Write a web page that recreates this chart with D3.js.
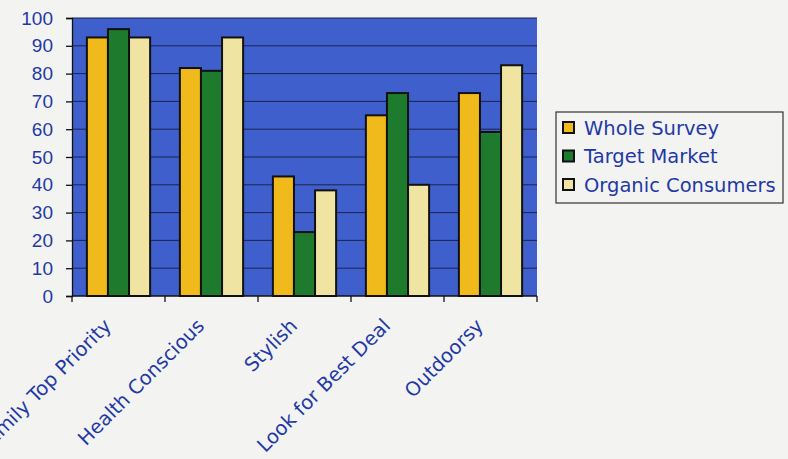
<!doctype html>
<html>
  <head>
    <script src="https://cdn.jsdelivr.net/npm/d3@7/dist/d3.min.js"></script>
    <style>
      body {
          margin: 0;
          background: #f3f3f2;
          font-family: "DejaVu Sans", Verdana, sans-serif;
      }
      .tick text, .cat, .legend text {
          fill: #1f3aa6;
      }
      .grid line {
          stroke: #1b2450;
          stroke-width: 1;
      }
      .bar {
          stroke: #111;
          stroke-width: 2;
      }
    </style>
  </head>
  <body>
    <script>
        var categories = ["Family Top Priority", "Health Conscious", "Stylish", "Look for Best Deal", "Outdoorsy"];
        var seriesNames = ["Whole Survey", "Target Market", "Organic Consumers"];
        var wholeSurvey = [93, 82, 43, 65, 73];
        var targetMarket = [96, 81, 23, 73, 59];
        var organicConsumers = [93, 93, 38, 40, 83];
        var yTicks = [0, 10, 20, 30, 40, 50, 60, 70, 80, 90, 100];

        var seriesValues = [wholeSurvey, targetMarket, organicConsumers];
        var colors = ["#f0b91c", "#1e7a2c", "#efe4a2"];

        var W = 788, H = 459;
        var margin = {top: 18, left: 72, right: 251, bottom: 163};
        var width = W - margin.left - margin.right,
            height = H - margin.top - margin.bottom;

        var svg = d3.select("body").append("svg")
            .attr("width", W)
            .attr("height", H);

        var g = svg.append("g")
            .attr("transform", `translate(${margin.left},${margin.top})`);

        var x0 = d3.scaleBand()
            .domain(categories)
            .range([0, width]);

        var groupPad = x0.bandwidth() * 0.16;

        var x1 = d3.scaleBand()
            .domain(seriesNames)
            .range([groupPad, x0.bandwidth() - groupPad]);

        var y = d3.scaleLinear()
            .domain([0, 100])
            .range([height, 0]);

        // plot area
        g.append("rect")
            .attr("width", width)
            .attr("height", height)
            .attr("fill", "#3f5fcc");

        g.append("g")
            .attr("class", "grid")
            .selectAll("line")
            .data(yTicks.slice(1))
            .enter().append("line")
            .attr("x1", 0)
            .attr("x2", width)
            .attr("y1", d => y(d))
            .attr("y2", d => y(d));

        // bars
        var group = g.selectAll(".group")
            .data(categories)
            .enter().append("g")
            .attr("class", "group")
            .attr("transform", d => `translate(${x0(d)},0)`);

        group.selectAll("rect")
            .data((c, i) => seriesNames.map((s, j) => ({s: s, v: seriesValues[j][i], j: j})))
            .enter().append("rect")
            .attr("class", "bar")
            .attr("x", d => x1(d.s))
            .attr("width", x1.bandwidth())
            .attr("y", d => y(d.v))
            .attr("height", d => height - y(d.v))
            .attr("fill", d => colors[d.j]);

        // axes
        var yAxis = d3.axisLeft(y).tickValues(yTicks).tickSize(6).tickPadding(13);
        g.append("g")
            .attr("class", "y axis")
            .call(yAxis)
            .call(a => a.selectAll("text").style("font-size", "19px"))
            .call(a => a.selectAll("line, path").attr("stroke", "#111").attr("stroke-width", 1.3));

        var xAxis = g.append("g")
            .attr("class", "x axis")
            .attr("transform", `translate(0,${height})`);

        xAxis.append("line")
            .attr("x1", 0).attr("x2", width)
            .attr("stroke", "#111").attr("stroke-width", 1.3);

        xAxis.selectAll(".xtick")
            .data(d3.range(categories.length + 1))
            .enter().append("line")
            .attr("x1", i => i < categories.length ? x0(categories[i]) : width)
            .attr("x2", i => i < categories.length ? x0(categories[i]) : width)
            .attr("y1", 0).attr("y2", 6)
            .attr("stroke", "#111").attr("stroke-width", 1.3);

        xAxis.selectAll(".cat")
            .data(categories)
            .enter().append("text")
            .attr("class", "cat")
            .attr("text-anchor", "end")
            .style("font-size", "19.5px")
            .attr("transform", d => `translate(${x0(d) + x0.bandwidth() / 2 - 6},${31}) rotate(-45)`)
            .text(d => d);

        // legend
        var legend = svg.append("g")
            .attr("class", "legend")
            .attr("transform", "translate(556,112)");

        legend.append("rect")
            .attr("width", 227)
            .attr("height", 91)
            .attr("fill", "none")
            .attr("stroke", "#333")
            .attr("stroke-width", 1.2);

        var item = legend.selectAll(".item")
            .data(seriesNames)
            .enter().append("g")
            .attr("class", "item")
            .attr("transform", (d, i) => `translate(7,${16 + i * 28.5})`);

        item.append("rect")
            .attr("x", 0).attr("y", -6)
            .attr("width", 11).attr("height", 11)
            .attr("fill", (d, i) => colors[i])
            .attr("stroke", "#111")
            .attr("stroke-width", 2);

        item.append("text")
            .attr("x", 21)
            .attr("dy", "0.35em")
            .style("font-size", "19.5px")
            .text(d => d);
    </script>
  </body>
</html>
